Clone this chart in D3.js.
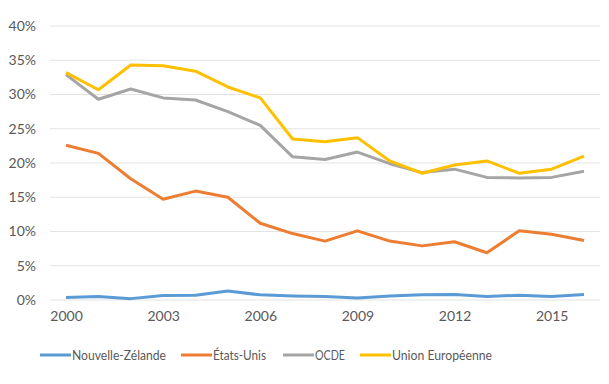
<!DOCTYPE html>
<html>
<head>
<meta charset="utf-8">
<script src="https://cdn.jsdelivr.net/npm/d3@7"></script>
<style>
  body { margin: 0; background: #fff; }
  text { font-family: Lato, "Open Sans", sans-serif; fill: #595959; }
</style>
</head>
<body>
<div id="chart"></div>
<script>
// data
var years = d3.range(2000, 2017);
var tickYears = [2000, 2003, 2006, 2009, 2012, 2015];
var yTicks = [0, 5, 10, 15, 20, 25, 30, 35, 40];

var nouvelleZelande = [0.35, 0.5, 0.2, 0.65, 0.7, 1.3, 0.75, 0.6, 0.5, 0.3, 0.6, 0.75, 0.8, 0.5, 0.7, 0.5, 0.8];
var etatsUnis = [22.6, 21.4, 17.7, 14.7, 15.9, 15.0, 11.2, 9.7, 8.6, 10.1, 8.6, 7.9, 8.5, 6.9, 10.1, 9.6, 8.7];
var ocde = [32.9, 29.3, 30.8, 29.5, 29.2, 27.5, 25.5, 20.9, 20.5, 21.6, 19.9, 18.6, 19.1, 17.9, 17.8, 17.9, 18.8];
var unionEuropeenne = [33.2, 30.7, 34.3, 34.2, 33.4, 31.1, 29.5, 23.5, 23.1, 23.7, 20.3, 18.5, 19.7, 20.3, 18.5, 19.1, 21.0];

var seriesNames = ["Nouvelle-Zélande", "États-Unis", "OCDE", "Union Européenne"];
var seriesValues = [nouvelleZelande, etatsUnis, ocde, unionEuropeenne];
var colors = ["#5B9BD5", "#ED7D31", "#A5A5A5", "#FFC000"];

var svg = d3.select("#chart").append("svg")
  .attr("width", 609)
  .attr("height", 384);

var x = d3.scaleLinear().domain([2000, 2016]).range([66, 584]);
var y = d3.scaleLinear().domain([0, 40]).range([300, 26]);

// gridlines
svg.append("g")
  .selectAll("line")
  .data(yTicks)
  .enter().append("line")
  .attr("x1", 50)
  .attr("x2", 600)
  .attr("y1", function (d) { return y(d); })
  .attr("y2", function (d) { return y(d); })
  .attr("stroke", "#e3e3e3")
  .attr("stroke-width", 1);

// y axis labels
var yAxis = svg.append("g")
  .attr("transform", "translate(36,0)")
  .call(d3.axisLeft(y).tickValues(yTicks).tickSize(0).tickPadding(0)
    .tickFormat(function (d) { return d + "%"; }));
yAxis.select(".domain").remove();
yAxis.selectAll("text").style("font-size", "14px").attr("fill", "#595959")
  .style("font-family", "Lato, sans-serif");

// x axis labels
var xAxis = svg.append("g")
  .attr("transform", "translate(0,311)")
  .call(d3.axisBottom(x).tickValues(tickYears).tickSize(0).tickPadding(0)
    .tickFormat(d3.format("d")));
xAxis.select(".domain").remove();
xAxis.selectAll("text").style("font-size", "14px").attr("fill", "#595959")
  .style("font-family", "Lato, sans-serif");

var line = d3.line()
  .x(function (d, i) { return x(years[i]); })
  .y(function (d) { return y(d); });

svg.append("g")
  .selectAll("path")
  .data(seriesValues)
  .enter().append("path")
  .attr("d", line)
  .attr("fill", "none")
  .attr("stroke", function (d, i) { return colors[i]; })
  .attr("stroke-width", 3)
  .attr("stroke-linejoin", "round");

// legend
var legendX = [40, 181, 283, 360];
var legendW = [94, 53, 30, 100];
var legend = svg.append("g")
  .selectAll("g")
  .data(seriesNames)
  .enter().append("g")
  .attr("transform", function (d, i) { return "translate(" + legendX[i] + ",355)"; });

legend.append("line")
  .attr("x1", 0).attr("x2", 31)
  .attr("stroke", function (d, i) { return colors[i]; })
  .attr("stroke-width", 3);

legend.append("text")
  .attr("x", 32)
  .attr("dy", "0.35em")
  .style("font-size", "14px")
  .attr("textLength", function (d, i) { return legendW[i]; })
  .attr("lengthAdjust", "spacingAndGlyphs")
  .text(function (d) { return d; });
</script>
</body>
</html>
